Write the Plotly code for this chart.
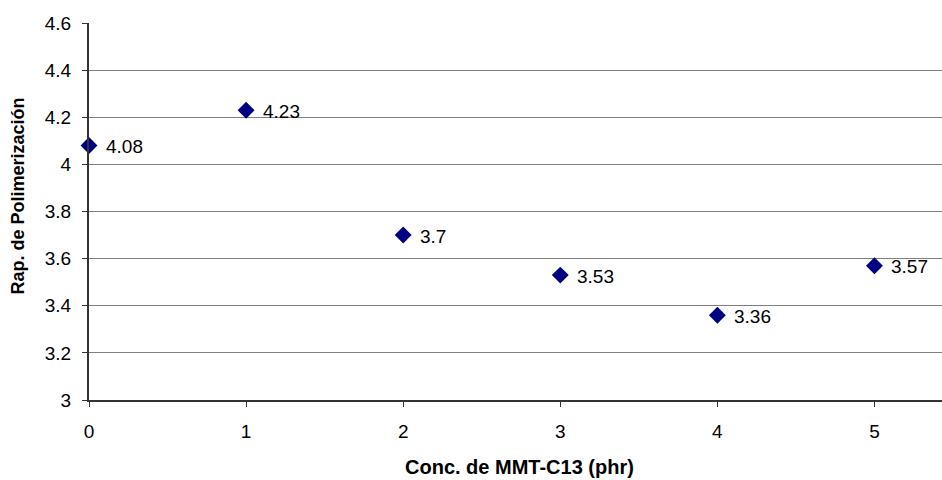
import plotly.graph_objects as go

conc = [0, 1, 2, 3, 4, 5]
rapidez = [4.08, 4.23, 3.70, 3.53, 3.36, 3.57]
labels = ["4.08", "4.23", "3.7", "3.53", "3.36", "3.57"]
x_title = "Conc. de MMT-C13 (phr)"
y_title = "Rap. de Polimerización"

FONT = "Liberation Sans, Arial"

fig = go.Figure()
fig.add_trace(go.Scatter(
    x=conc, y=rapidez, mode="markers",
    marker=dict(symbol="diamond", size=13, color="#000080"),
    cliponaxis=False, showlegend=False,
))
for xv, yv, t in zip(conc, rapidez, labels):
    fig.add_annotation(x=xv, y=yv, text=t, showarrow=False,
                       xanchor="left", yanchor="middle", xshift=15, yshift=-1,
                       font=dict(family=FONT, size=19, color="#000000"))

fig.add_annotation(xref="paper", yref="paper", x=0.505, y=-0.178,
                   text="<b>" + x_title + "</b>", showarrow=False,
                   xanchor="center", yanchor="middle",
                   font=dict(family=FONT, size=20, color="#000000"))
fig.add_annotation(xref="paper", yref="paper", x=-0.083, y=0.54,
                   text="<b>" + y_title + "</b>", showarrow=False, textangle=-90,
                   xanchor="center", yanchor="middle",
                   font=dict(family=FONT, size=18, color="#000000"))

fig.update_layout(
    width=942, height=480,
    margin=dict(l=89, r=0, t=23, b=80),
    paper_bgcolor="white", plot_bgcolor="white",
    font=dict(family=FONT, size=19, color="#000000"),
)
fig.update_xaxes(
    range=[0, 5.43], tickvals=[0, 1, 2, 3, 4, 5],
    showgrid=False, zeroline=False,
    showline=True, linecolor="#333333", linewidth=2,
    ticks="outside", ticklen=5, tickcolor="#333333",
    ticklabelstandoff=8,
    tickfont=dict(size=19),
)
fig.update_yaxes(
    range=[3, 4.6], tick0=3, dtick=0.2,
    showgrid=True, gridcolor="#808080", gridwidth=1, zeroline=False,
    showline=True, linecolor="#333333", linewidth=2,
    ticks="outside", ticklen=5, tickcolor="#333333",
    ticklabelstandoff=7,
    tickfont=dict(size=19),
)

fig.write_html("out.html")
